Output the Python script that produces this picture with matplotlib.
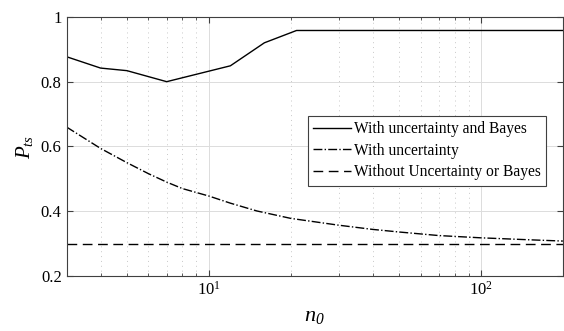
import numpy as np
import matplotlib.pyplot as plt
from matplotlib.ticker import LogLocator, NullFormatter, FixedLocator

plt.rcParams["font.family"] = ["Liberation Serif", "DejaVu Serif"]
plt.rcParams["mathtext.fontset"] = "custom"
plt.rcParams["mathtext.rm"] = "Liberation Serif"
plt.rcParams["mathtext.it"] = "Liberation Serif:italic"
plt.rcParams["mathtext.cal"] = "Liberation Serif:italic"  # italic digits for n_0

# with uncertainty and Bayes
n_bayes = [3, 4, 5, 7, 12, 16, 21, 50, 100, 200]
p_bayes = [0.877, 0.842, 0.834, 0.800, 0.849, 0.920, 0.958, 0.958, 0.958, 0.958]

# with uncertainty
n_unc = [3, 4, 5, 6, 7, 8, 10, 12, 15, 20, 30, 40, 50, 70, 100, 150, 200]
p_unc = [0.660, 0.594, 0.550, 0.516, 0.490, 0.470, 0.447, 0.425, 0.401,
         0.378, 0.357, 0.344, 0.336, 0.325, 0.318, 0.312, 0.308]

# without uncertainty or Bayes
n_none = [3, 200]
p_none = [0.30, 0.30]

fig = plt.figure(figsize=(5.64, 3.31), dpi=100)
ax = fig.add_axes([0.118, 0.166, 0.880, 0.783])

ax.plot(n_bayes, p_bayes, "k-", lw=1.0, label="With uncertainty and Bayes")
ax.plot(n_unc, p_unc, "k-.", lw=1.0, label="With uncertainty")
ax.plot(n_none, p_none, "k--", lw=1.0, dashes=(7, 4), label="Without Uncertainty or Bayes")

ax.set_xscale("log")
ax.set_xlim(3, 200)
ax.set_ylim(0.2, 1.0)
ax.yaxis.set_major_locator(FixedLocator([0.2, 0.4, 0.6, 0.8, 1.0]))
ax.set_yticklabels(["0.2", "0.4", "0.6", "0.8", "1"])
ax.xaxis.set_major_locator(LogLocator(base=10))
ax.xaxis.set_minor_locator(LogLocator(base=10, subs=np.arange(2, 10)))
ax.xaxis.set_minor_formatter(NullFormatter())

ax.grid(True, which="major", color="#dcdcdc", lw=0.7)
ax.grid(True, which="minor", axis="x", color="#c8c8c8", lw=0.7, linestyle=(0, (1, 4)))
ax.set_axisbelow(True)

for s in ax.spines.values():
    s.set_color("#404040")
    s.set_linewidth(0.8)
ax.tick_params(which="both", direction="in", top=True, right=True, colors="#404040",
               labelcolor="black", labelsize=12)
ax.tick_params(which="major", length=4)
ax.tick_params(which="minor", length=2)

ax.set_xlabel(r"$n_{\mathcal{0}}$", fontsize=16, labelpad=6)
ax.set_ylabel("$P_{ts}$", fontsize=15, labelpad=4)

leg = ax.legend(loc="upper right", bbox_to_anchor=(0.966, 0.618), borderaxespad=0,
                fontsize=11.2, fancybox=False, edgecolor="#404040", framealpha=1,
                handlelength=2.4, handletextpad=0.2, borderpad=0.35, labelspacing=0.35)
leg.get_frame().set_linewidth(0.8)

fig.savefig("out.png", dpi=100)
